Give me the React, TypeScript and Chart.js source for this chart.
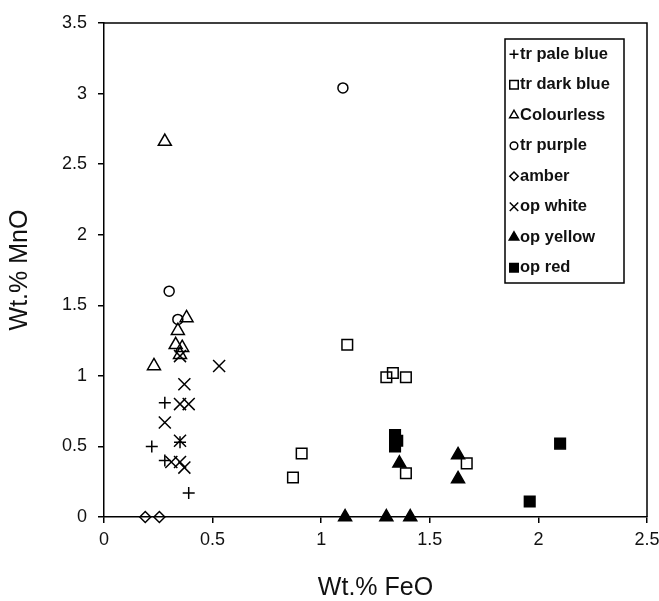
import React, { useEffect, useRef } from 'react';
import { Chart, registerables } from 'chart.js';

Chart.register(...registerables);

// ---- Data ----
const seriesNames = ['tr pale blue', 'tr dark blue', 'Colourless', 'tr purple', 'amber', 'op white', 'op yellow', 'op red'];

const trPaleBlueX = [0.28, 0.22, 0.35, 0.28, 0.39];
const trPaleBlueY = [0.81, 0.5, 0.53, 0.4, 0.17];

const trDarkBlueX = [0.87, 0.91, 1.12, 1.3, 1.33, 1.39, 1.39, 1.67];
const trDarkBlueY = [0.28, 0.45, 1.22, 0.99, 1.02, 0.99, 0.31, 0.38];

const colourlessX = [0.28, 0.38, 0.34, 0.33, 0.36, 0.35, 0.23];
const colourlessY = [2.66, 1.41, 1.32, 1.22, 1.2, 1.15, 1.07];

const trPurpleX = [1.1, 0.3, 0.34];
const trPurpleY = [3.04, 1.6, 1.4];

const amberX = [0.19, 0.255];
const amberY = [0, 0];

const opWhiteX = [0.53, 0.37, 0.35, 0.39, 0.28, 0.35, 0.31, 0.35, 0.37, 0.35];
const opWhiteY = [1.07, 0.94, 0.8, 0.8, 0.67, 0.54, 0.39, 0.39, 0.35, 1.14];

const opYellowX = [1.36, 1.63, 1.63, 1.11, 1.3, 1.41];
const opYellowY = [0.38, 0.44, 0.27, 0, 0, 0];

const opRedX = [1.34, 1.35, 1.34, 2.1, 1.96];
const opRedY = [0.58, 0.54, 0.5, 0.52, 0.11];

const xTicks = [0, 0.5, 1, 1.5, 2, 2.5];
const yTicks = [0, 0.5, 1, 1.5, 2, 2.5, 3, 3.5];

const FONT = "'Liberation Sans', Arial, sans-serif";

const toPoints = (xs: number[], ys: number[]) => xs.map((x, i) => ({ x, y: ys[i] }));

type Style = { style: string; r: number; lr: number; filled: boolean };
const styles: Style[] = [
  { style: 'cross', r: 6, lr: 4.5, filled: false },
  { style: 'rect', r: 7.5, lr: 6, filled: false },
  { style: 'triangle', r: 7.5, lr: 5, filled: false },
  { style: 'circle', r: 5, lr: 3.8, filled: false },
  { style: 'rectRot', r: 5.5, lr: 4.2, filled: false },
  { style: 'crossRot', r: 8.5, lr: 6, filled: false },
  { style: 'triangle', r: 7.5, lr: 5.5, filled: true },
  { style: 'rect', r: 7.5, lr: 6, filled: true },
];

function drawMarker(ctx: CanvasRenderingContext2D, s: Style, x: number, y: number, r: number) {
  ctx.save();
  ctx.beginPath();
  ctx.lineWidth = 1.5;
  ctx.strokeStyle = '#000';
  ctx.fillStyle = '#000';
  switch (s.style) {
    case 'cross':
      ctx.moveTo(x - r, y); ctx.lineTo(x + r, y);
      ctx.moveTo(x, y - r); ctx.lineTo(x, y + r);
      break;
    case 'crossRot': {
      const d = r * Math.SQRT1_2;
      ctx.moveTo(x - d, y - d); ctx.lineTo(x + d, y + d);
      ctx.moveTo(x - d, y + d); ctx.lineTo(x + d, y - d);
      break;
    }
    case 'rect': {
      const h = r * Math.SQRT1_2;
      ctx.rect(x - h, y - h, 2 * h, 2 * h);
      break;
    }
    case 'rectRot':
      ctx.moveTo(x, y - r); ctx.lineTo(x + r, y); ctx.lineTo(x, y + r); ctx.lineTo(x - r, y); ctx.closePath();
      break;
    case 'triangle':
      ctx.moveTo(x, y - r);
      ctx.lineTo(x + r * 0.866, y + r * 0.5);
      ctx.lineTo(x - r * 0.866, y + r * 0.5);
      ctx.closePath();
      break;
    case 'circle':
      ctx.arc(x, y, r, 0, Math.PI * 2);
      break;
  }
  if (s.filled) ctx.fill();
  ctx.stroke();
  ctx.restore();
}

const framePlugin = {
  id: 'frame',
  beforeDatasetsDraw(chart: any) {
    const { ctx, chartArea } = chart;
    ctx.save();
    ctx.strokeStyle = '#000';
    ctx.lineWidth = 1.5;
    ctx.beginPath();
    ctx.moveTo(chartArea.left, chartArea.top);
    ctx.lineTo(chartArea.right, chartArea.top);
    ctx.lineTo(chartArea.right, chartArea.bottom);
    ctx.stroke();
    ctx.restore();
  },
};

const legendPlugin = {
  id: 'boxLegend',
  afterDraw(chart: any) {
    const { ctx } = chart;
    const left = 505, top = 39, right = 624, bottom = 283;
    ctx.save();
    ctx.fillStyle = '#fff';
    ctx.fillRect(left, top, right - left, bottom - top);
    ctx.strokeStyle = '#000';
    ctx.lineWidth = 1.5;
    ctx.strokeRect(left, top, right - left, bottom - top);
    const step = (bottom - top) / seriesNames.length;
    seriesNames.forEach((name, i) => {
      const cy = top + step * (i + 0.5);
      drawMarker(ctx, styles[i], 514, cy, styles[i].lr);
      ctx.fillStyle = '#111';
      ctx.font = `bold 16.5px ${FONT}`;
      ctx.textBaseline = 'middle';
      ctx.textAlign = 'left';
      ctx.fillText(name, 520, cy);
    });
    ctx.restore();
  },
};

export default function App() {
  const canvasRef = useRef<HTMLCanvasElement | null>(null);

  useEffect(() => {
    if (!canvasRef.current) return;
    const xs = [trPaleBlueX, trDarkBlueX, colourlessX, trPurpleX, amberX, opWhiteX, opYellowX, opRedX];
    const ys = [trPaleBlueY, trDarkBlueY, colourlessY, trPurpleY, amberY, opWhiteY, opYellowY, opRedY];
    const datasets = seriesNames.map((name, i) => ({
      label: name,
      data: toPoints(xs[i], ys[i]),
      pointStyle: styles[i].style as any,
      pointRadius: styles[i].r,
      pointHoverRadius: styles[i].r,
      pointBorderWidth: 1.5,
      borderColor: '#000',
      backgroundColor: styles[i].filled ? '#000' : 'rgba(0,0,0,0)',
      showLine: false,
      clip: false as any,
    }));

    const tickFont = { family: FONT, size: 18 };
    const titleFont = { family: FONT, size: 25, lineHeight: 1 };

    const chart = new Chart(canvasRef.current, {
      type: 'scatter',
      data: { datasets },
      plugins: [framePlugin, legendPlugin],
      options: {
        responsive: false,
        animation: false,
        layout: { padding: { left: 0, right: 12, top: 23, bottom: 0 } },
        plugins: {
          legend: { display: false },
          tooltip: { enabled: false },
        },
        scales: {
          x: {
            type: 'linear',
            position: 'bottom',
            min: 0,
            max: 2.5,
            afterBuildTicks: (s: any) => { s.ticks = xTicks.map((v) => ({ value: v })); },
            afterFit: (s: any) => { s.height = 84; s.paddingLeft = 0; s.paddingRight = 0; },
            ticks: {
              font: tickFont,
              color: '#111',
              padding: 6,
              maxRotation: 0,
              autoSkip: false,
              callback: (v: any) => String(v),
            },
            grid: { drawOnChartArea: false, drawTicks: true, tickLength: 6, color: '#000', lineWidth: 1.5 },
            border: { display: true, color: '#000', width: 1.5 },
            title: { display: true, text: 'Wt.% FeO', font: titleFont, color: '#111', padding: { top: 0, bottom: 0 } },
          },
          y: {
            type: 'linear',
            position: 'left',
            min: 0,
            max: 3.5,
            afterBuildTicks: (s: any) => { s.ticks = yTicks.map((v) => ({ value: v })); },
            afterFit: (s: any) => { s.width = 104; s.paddingTop = 0; s.paddingBottom = 0; },
            ticks: {
              font: tickFont,
              color: '#111',
              padding: 11,
              autoSkip: false,
              callback: (v: any) => String(v),
            },
            grid: { drawOnChartArea: false, drawTicks: true, tickLength: 6, color: '#000', lineWidth: 1.5 },
            border: { display: true, color: '#000', width: 1.5 },
            title: { display: true, text: 'Wt.% MnO', font: titleFont, color: '#111', padding: { top: 8, bottom: 0 } },
          },
        },
      },
    });
    return () => chart.destroy();
  }, []);

  return (
    <div style={{ position: 'fixed', left: 0, top: 0, width: 659, height: 601, background: '#fff' }}>
      <canvas ref={canvasRef} width={659} height={601} style={{ display: 'block' }} />
    </div>
  );
}
